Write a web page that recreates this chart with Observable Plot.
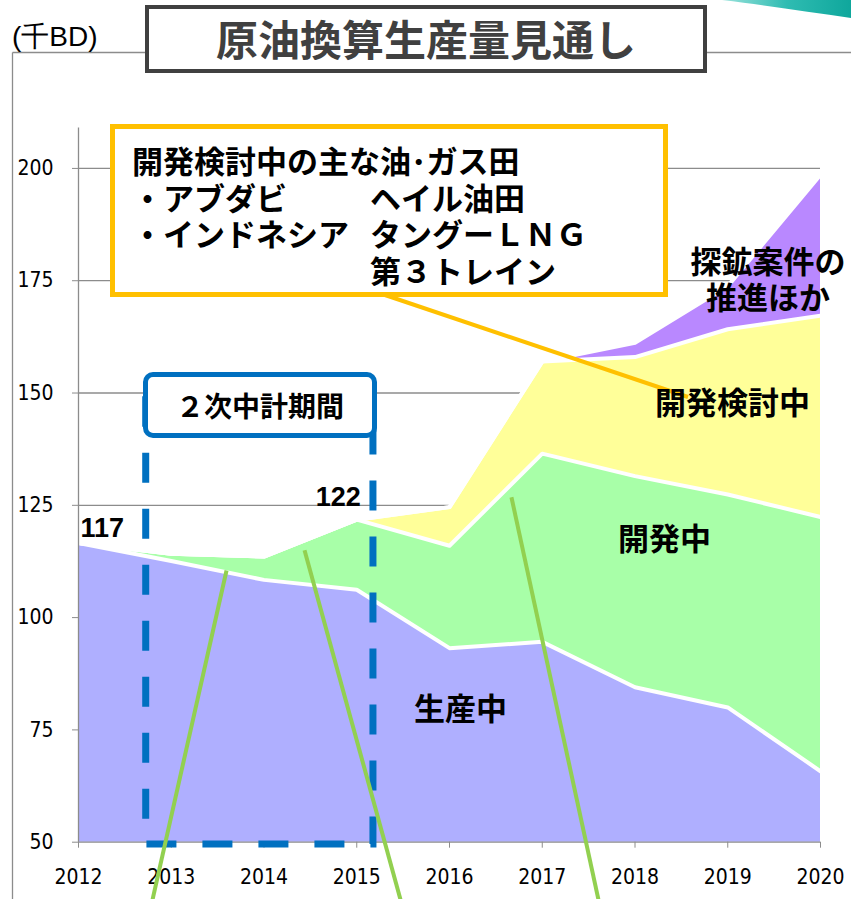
<!DOCTYPE html>
<html><head><meta charset="utf-8">
<script src="https://cdn.jsdelivr.net/npm/d3@7"></script>
<script src="https://cdn.jsdelivr.net/npm/@observablehq/plot@0.6"></script>
<style>
body{margin:0;background:#fff;}
#wrap{position:relative;width:851px;height:899px;overflow:hidden;background:#fff;}
#wrap > svg{position:absolute;left:0;top:0;}
.abs{position:absolute;}
.jp{font-family:"Noto Sans CJK JP",sans-serif;font-weight:700;color:#000;white-space:pre;line-height:1;}
.col{display:inline-block;width:238px;}
</style></head>
<body><div id="wrap"></div>
<script>
// ---- data ----
const years = [2012, 2013, 2014, 2015, 2016, 2017, 2018, 2019, 2020];
const seriesNames = ["生産中", "開発中", "開発検討中", "探鉱案件の推進ほか"];
const producing   = [116.6, 112.6, 108.4, 106.2, 93.2, 94.6, 84.5, 80.0, 65.8];
const developing  = [0, 1.6, 5.2, 15.6, 22.8, 41.9, 47.0, 47.4, 56.6];
const planning    = [0, 0, 0, 0, 8.6, 20.5, 26.5, 36.8, 44.8];
const exploration = [0, 0, 0, 0, 0, 0, 3.2, 9.6, 31.4];
const yTicks = [50, 75, 100, 125, 150, 175, 200];
const xTicks = years;
const valueLabels = [{year: 2012, value: 117, text: "117"}, {year: 2015, value: 122, text: "122"}];
// plan period (2次中計期間) box, in data units
const planPeriod = [{start: 2012.73, end: 2015.18, low: 49.5, high: 148.4}];
// green pointer lines, in data units
const pointers = [
  {x1: 2013.596, y1: 110.5, x2: 2012.798, y2: 37.2},
  {x1: 2014.437, y1: 115.0, x2: 2015.472, y2: 37.2},
  {x1: 2016.668, y1: 126.8, x2: 2017.606, y2: 37.2}
];
const colors = ["#AFAFFF", "#A8FFA8", "#FFFF99", "#B988FF"];

const seriesValues = [producing, developing, planning, exploration];
const rows = [];
seriesNames.forEach((s, i) => years.forEach((yr, j) => rows.push({series: s, year: yr, value: seriesValues[i][j]})));

const tickFont = "'Liberation Sans Narrow','DejaVu Sans Condensed','Liberation Sans',sans-serif";
const gray = "#8c8c8c";

const chart = Plot.plot({
  width: 851, height: 899,
  marginLeft: 78, marginRight: 31, marginTop: 127.5, marginBottom: 57.3,
  x: {domain: [2012, 2020]},
  y: {domain: [50, 209]},
  color: {domain: seriesNames, range: colors},
  style: {fontFamily: tickFont, fontSize: "21px", color: "#000", background: "transparent", overflow: "visible"},
  marks: [
    Plot.ruleY(yTicks.filter(v => v > 50), {stroke: gray, strokeWidth: 1.3}),
    Plot.areaY(rows, {x: "year", y: "value", z: "series", fill: "series", order: seriesNames, clip: true}),
    Plot.lineY(rows, Plot.stackY2({x: "year", y: "value", z: "series", order: seriesNames, stroke: "#fff", strokeWidth: 4, clip: true})),
    Plot.ruleX([2012], {stroke: gray, strokeWidth: 1.3}),
    Plot.ruleY([50], {stroke: gray, strokeWidth: 1.3}),
    Plot.axisY({ticks: yTicks, tickSize: 6, tickPadding: 19, stroke: gray, fill: "#000", label: null}),
    Plot.axisX({ticks: xTicks, tickFormat: d => String(d), tickSize: 6, tickPadding: 21, stroke: gray, fill: "#000", label: null}),
    Plot.rect(planPeriod, {x1: "start", x2: "end", y1: "low", y2: "high", fill: "none", stroke: "#0070C0", strokeWidth: 7, strokeDasharray: "30,26", strokeDashoffset: 28}),
    Plot.link(pointers, {x1: "x1", y1: "y1", x2: "x2", y2: "y2", stroke: "#92D050", strokeWidth: 4}),
    Plot.text(valueLabels.slice(0, 1), {x: "year", y: "value", text: "text", textAnchor: "start", dx: 2, dy: -13, fontFamily: "'Liberation Sans',sans-serif", fontWeight: "bold", fontSize: 27, fill: "#000"}),
    Plot.text(valueLabels.slice(1), {x: "year", y: "value", text: "text", textAnchor: "end", dx: 4, dy: -21, fontFamily: "'Liberation Sans',sans-serif", fontWeight: "bold", fontSize: 27, fill: "#000"})
  ]
});
const wrap = document.getElementById("wrap");
wrap.appendChild(chart);

// decorations overlay (frame, leader line, corner swoosh)
const ns = "http://www.w3.org/2000/svg";
const deco = document.createElementNS(ns, "svg");
deco.setAttribute("width", 851); deco.setAttribute("height", 899);
deco.innerHTML = `
  <defs><linearGradient id="tg" x1="0" x2="1" y1="0" y2="0">
    <stop offset="0" stop-color="#9be3dc"/><stop offset="0.5" stop-color="#2fbcb2"/><stop offset="1" stop-color="#0fa79c"/></linearGradient></defs>
  <path d="M722,0 L851,0 L851,18 C810,12 770,6 722,0 Z" fill="url(#tg)"/>
  <line x1="12.5" y1="52.5" x2="851" y2="52.5" stroke="${gray}" stroke-width="1.3"/>
  <line x1="12.5" y1="52.5" x2="12.5" y2="899" stroke="${gray}" stroke-width="1.3"/>
  <line x1="385" y1="295" x2="688" y2="397" stroke="#FFC000" stroke-width="4"/>`;
wrap.appendChild(deco);

function addDiv(html, style, cls) {
  const d = document.createElement("div");
  d.className = "abs " + (cls || "");
  d.setAttribute("style", style);
  d.innerHTML = html;
  wrap.appendChild(d);
  return d;
}
// unit
addDiv("(千BD)", "left:12px;top:23px;font-family:'Liberation Sans Narrow','Liberation Sans',sans-serif;font-size:28px;color:#000;line-height:1;white-space:pre;");
// title
addDiv("原油換算生産量見通し", "left:145px;top:5px;width:562px;height:68px;box-sizing:border-box;border:4px solid #404040;background:#fff;text-align:center;font-family:'Noto Sans CJK JP',sans-serif;font-weight:700;font-size:42px;line-height:58px;color:#404040;white-space:pre;");
// callout
addDiv("", "left:110px;top:124px;width:558px;height:173px;box-sizing:border-box;border:5px solid #FFC000;background:#fff;");
addDiv("開発検討中の主な油･ガス田<br><span class='col'>・アブダビ</span>ヘイル油田<br><span class='col'>・インドネシア</span>タングーＬＮＧ<br><span class='col'></span>第３トレイン",
  "left:132px;top:142px;font-size:31px;line-height:36.5px;", "jp");
// plan period label
addDiv("２次中計期間", "left:143px;top:372px;width:234px;height:66px;box-sizing:border-box;border:5px solid #0070C0;border-radius:10px;background:#fff;text-align:center;line-height:56px;font-size:28px;", "jp");
// series labels
addDiv("生産中", "left:414px;top:691px;font-size:31px;", "jp");
addDiv("開発中", "left:618px;top:521px;font-size:31px;", "jp");
addDiv("開発検討中", "left:655px;top:385px;font-size:31px;", "jp");
addDiv("探鉱案件の<br>推進ほか", "left:688px;top:242px;width:160px;text-align:center;font-size:31px;line-height:36px;", "jp");
</script>
</body></html>
